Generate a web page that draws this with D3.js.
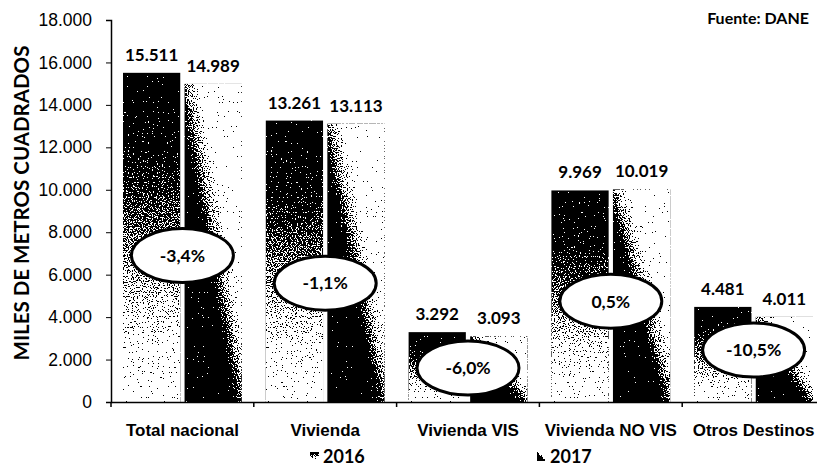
<!DOCTYPE html>
<html>
<head>
<meta charset="utf-8">
<script src="https://cdn.jsdelivr.net/npm/d3@7"></script>
<style>
  body { margin: 0; background: #fff; }
  svg { display: block; font-family: Lato, "Open Sans", sans-serif; }
</style>
</head>
<body>
<div id="chart"></div>
<script>
const categories = ["Total nacional", "Vivienda", "Vivienda VIS", "Vivienda NO VIS", "Otros Destinos"];
const series = ["2016", "2017"];
const values2016 = [15511, 13261, 3292, 9969, 4481];
const values2017 = [14989, 13113, 3093, 10019, 4011];
// where the variation badge sits, in the units of the y axis
const badgeAt = [6900, 5600, 1600, 4750, 2450];
const yTicks = [0, 2000, 4000, 6000, 8000, 10000, 12000, 14000, 16000, 18000];

const width = 817, height = 466;
const margin = {top: 20, right: 0, bottom: 64, left: 111};

const es = d3.formatLocale({decimal: ",", thousands: ".", grouping: [3], currency: ["$", ""], minus: "-"});
const fmtNum = es.format(",");
const fmtPct = es.format(".1%");

const svg = d3.select("#chart").append("svg")
  .attr("width", width)
  .attr("height", height);

const defs = svg.append("defs");

// 2016: dark on top, fading to white at the base
const g16 = defs.append("linearGradient").attr("id", "fill2016")
  .attr("x1", 0).attr("y1", 0).attr("x2", 0).attr("y2", 1);
g16.append("stop").attr("offset", "0%").attr("stop-color", "#000");
g16.append("stop").attr("offset", "25%").attr("stop-color", "#1a1a1a");
g16.append("stop").attr("offset", "55%").attr("stop-color", "#8a8a8a");
g16.append("stop").attr("offset", "80%").attr("stop-color", "#e0e0e0");
g16.append("stop").attr("offset", "100%").attr("stop-color", "#f6f6f6");

// 2017: white at top-right, black at bottom-left
const g17 = defs.append("linearGradient").attr("id", "fill2017")
  .attr("x1", 1).attr("y1", 0).attr("x2", 0).attr("y2", 1);
g17.append("stop").attr("offset", "0%").attr("stop-color", "#fff");
g17.append("stop").attr("offset", "36%").attr("stop-color", "#fafafa");
g17.append("stop").attr("offset", "48%").attr("stop-color", "#888");
g17.append("stop").attr("offset", "58%").attr("stop-color", "#000");
g17.append("stop").attr("offset", "100%").attr("stop-color", "#000");

// stipple look: add noise then threshold
const dither = defs.append("filter").attr("id", "dither")
  .attr("x", 0).attr("y", 0).attr("width", 1).attr("height", 1)
  .attr("color-interpolation-filters", "sRGB");
dither.append("feTurbulence").attr("type", "fractalNoise")
  .attr("baseFrequency", 0.8).attr("numOctaves", 1).attr("seed", 7).attr("result", "noise");
dither.append("feColorMatrix").attr("in", "noise").attr("type", "matrix")
  .attr("values", "1 0 0 0 0  1 0 0 0 0  1 0 0 0 0  0 0 0 0 1").attr("result", "n");
dither.append("feComposite").attr("in", "SourceGraphic").attr("in2", "n")
  .attr("operator", "arithmetic").attr("k1", 0).attr("k2", 1).attr("k3", 2.2).attr("k4", -1.1)
  .attr("result", "sum");
const ct = dither.append("feComponentTransfer").attr("in", "sum").attr("result", "bw");
["feFuncR", "feFuncG", "feFuncB"].forEach(f => ct.append(f).attr("type", "discrete").attr("tableValues", "0 1"));
dither.append("feComposite").attr("in", "bw").attr("in2", "SourceAlpha").attr("operator", "in");

const x0 = d3.scaleBand()
  .domain(categories)
  .range([margin.left, 825]);

const x1 = d3.scaleBand()
  .domain(series)
  .range([12, x0.bandwidth() - 12])
  .paddingInner(0.07);

const y = d3.scaleLinear()
  .domain([0, 18000])
  .range([height - margin.bottom, margin.top]);

const rows = categories.map((c, i) => ({
  cat: c,
  vals: [{s: "2016", v: values2016[i]}, {s: "2017", v: values2017[i]}],
  change: values2017[i] / values2016[i] - 1,
  badge: badgeAt[i]
}));

// bars
const groups = svg.selectAll(".grp")
  .data(rows)
  .enter().append("g")
  .attr("class", "grp")
  .attr("transform", d => `translate(${x0(d.cat)},0)`);

groups.selectAll("rect")
  .data(d => d.vals)
  .enter().append("rect")
  .attr("x", d => x1(d.s))
  .attr("y", d => y(d.v))
  .attr("width", x1.bandwidth())
  .attr("height", d => y(0) - y(d.v))
  .attr("fill", d => `url(#fill${d.s})`)
  .attr("filter", "url(#dither)");

groups.selectAll(".val")
  .data(d => d.vals)
  .enter().append("text")
  .attr("class", "val")
  .attr("x", d => x1(d.s) + x1.bandwidth() / 2)
  .attr("y", d => y(d.v) - 12)
  .attr("text-anchor", "middle")
  .style("font-size", "17px")
  .style("font-weight", "bold")
  .text(d => fmtNum(d.v));

// variation badges
const badges = svg.selectAll(".badge")
  .data(rows)
  .enter().append("g")
  .attr("class", "badge")
  .attr("transform", d => `translate(${x0(d.cat) + x0.bandwidth() / 2},${y(d.badge)})`);

badges.append("ellipse")
  .attr("rx", 51)
  .attr("ry", 27)
  .attr("fill", "#fff")
  .attr("stroke", "#000")
  .attr("stroke-width", 3);

badges.append("text")
  .attr("text-anchor", "middle")
  .attr("dy", "0.36em")
  .style("font-size", "17.5px")
  .style("font-weight", "bold")
  .text(d => fmtPct(d.change));

// y axis
const yAxis = svg.append("g")
  .attr("transform", `translate(${margin.left},0)`)
  .call(d3.axisLeft(y).tickValues(yTicks).tickFormat(fmtNum).tickSize(5).tickPadding(14));
yAxis.select(".domain").attr("stroke", "#000").attr("stroke-width", 1.5);
yAxis.selectAll("text").style("font-size", "17.5px").attr("fill", "#000");

// x axis
const xAxis = svg.append("g")
  .attr("transform", `translate(0,${y(0)})`)
  .call(d3.axisBottom(x0).tickSize(0).tickPadding(22).tickSizeOuter(0));
xAxis.select(".domain").attr("stroke", "#000").attr("stroke-width", 1.5);
xAxis.selectAll("text").style("font-size", "17px").style("font-weight", "bold").attr("fill", "#000");
xAxis.selectAll(".sep")
  .data(categories)
  .enter().append("line")
  .attr("class", "sep")
  .attr("x1", d => x0(d)).attr("x2", d => x0(d))
  .attr("y1", 0).attr("y2", 5)
  .attr("stroke", "#000").attr("stroke-width", 1.5);

// y title
svg.append("text")
  .attr("transform", `translate(29,${(y(0) + y(18000)) / 2 - 8}) rotate(-90)`)
  .attr("text-anchor", "middle")
  .style("font-size", "20.5px")
  .style("font-weight", "bold")
  .text("MILES DE METROS CUADRADOS");

// source
svg.append("text")
  .attr("x", 809)
  .attr("y", 24)
  .attr("text-anchor", "end")
  .style("font-size", "16px")
  .style("font-weight", "bold")
  .text("Fuente: DANE");

// legend
const legendX = d3.scalePoint().domain(series).range([310, 537]);
const legend = svg.selectAll(".leg")
  .data(series)
  .enter().append("g")
  .attr("class", "leg")
  .attr("transform", d => `translate(${legendX(d)},463)`);
legend.append("rect")
  .attr("x", 0).attr("y", -11)
  .attr("width", 9).attr("height", 9)
  .attr("fill", d => `url(#fill${d})`)
  .attr("filter", "url(#dither)");
legend.append("text")
  .attr("x", 13)
  .style("font-size", "18px")
  .style("font-weight", "bold")
  .text(d => d);
</script>
</body>
</html>
